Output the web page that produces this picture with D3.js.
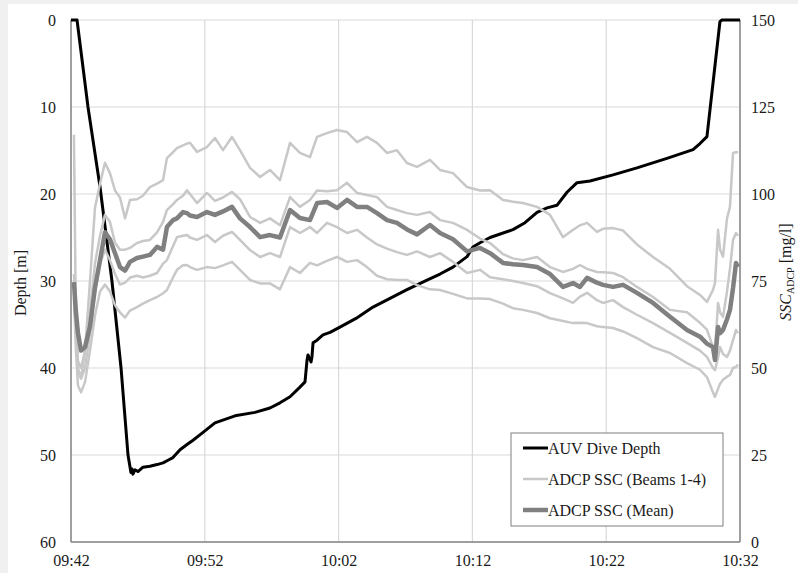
<!DOCTYPE html>
<html>
<head>
<meta charset="utf-8">
<script src="https://cdn.jsdelivr.net/npm/d3@7"></script>
<style>
  html, body { margin: 0; padding: 0; background: #f0f0f0; }
  svg { display: block; }
  svg text { font-family: "Liberation Serif", "Tinos", "Times New Roman", "DejaVu Serif", serif; }
</style>
</head>
<body>
<svg id="chart" width="798" height="573"></svg>
<script>
// ---- Data (time in minutes after 09:42) ----
const timeTickLabels = ["09:42", "09:52", "10:02", "10:12", "10:22", "10:32"];
const timeTicks = [0, 10, 20, 30, 40, 50];
const depthTicks = [0, 10, 20, 30, 40, 50, 60];
const sscTicks = [0, 25, 50, 75, 100, 125, 150];

// AUV dive depth [m]
const depthTime = [0, 0.45, 1.27, 2.17, 3.06, 3.74, 4.26, 4.48, 4.56, 4.63,
  4.78, 5.0, 5.38, 5.9, 6.43, 6.88, 7.25, 7.62, 8.15, 8.67,
  9.12, 9.87, 10.76, 12.26, 13.75, 14.87, 15.62, 16.37, 17.11, 17.49,
  17.64, 17.71, 17.94, 18.01, 18.09, 18.39, 18.83, 19.36, 20.1, 21.3,
  22.57, 23.84, 25.11, 26.61, 27.58, 28.55, 29.6, 30.04, 30.57, 31.32,
  33.03, 33.93, 34.83, 35.58, 36.32, 37.07, 37.82, 38.79, 40.51, 42.3,
  44.54, 46.49, 47.01, 47.53, 48.5, 48.65, 50];
const depthValues = [0, 0, 10, 19.2, 30, 40, 50, 52, 51.6, 52.2,
  51.7, 51.9, 51.4, 51.3, 51.1, 50.9, 50.6, 50.3, 49.4, 48.8,
  48.3, 47.4, 46.3, 45.5, 45.1, 44.6, 44.0, 43.3, 42.2, 41.6,
  39.1, 38.5, 39.3, 38.7, 37.1, 36.8, 36.2, 35.9, 35.3, 34.3,
  33.0, 32.0, 31.0, 29.9, 29.2, 28.4, 27.2, 26.1, 25.6, 25.0,
  24.1, 23.3, 22.1, 21.6, 21.3, 19.8, 18.7, 18.5, 17.8, 17.0,
  15.9, 14.9, 14.2, 13.4, 0.2, 0, 0];

// ADCP SSC [mg/l]
const sscTime = [0.22, 0.37, 0.52, 0.75, 1.05, 1.42, 1.79, 2.17, 2.54, 2.91,
  3.29, 3.66, 4.04, 4.41, 4.93, 5.38, 5.90, 6.43, 6.88, 7.17,
  7.62, 7.92, 8.37, 8.67, 8.89, 9.42, 10.16, 10.76, 11.36, 12.03,
  12.63, 13.38, 14.13, 14.87, 15.62, 16.37, 17.11, 17.86, 18.39, 19.13,
  19.88, 20.63, 21.38, 22.12, 22.87, 23.62, 24.36, 25.11, 25.86, 26.83,
  27.58, 28.55, 29.60, 30.57, 31.32, 32.29, 33.03, 33.78, 34.83, 35.80,
  36.77, 37.52, 38.04, 38.57, 39.31, 39.76, 40.51, 41.26, 42.30, 43.50,
  44.77, 46.04, 47.01, 47.53, 47.98, 48.13, 48.36, 48.51, 48.73, 49.03,
  49.25, 49.48, 49.70, 49.85];
const sscMean = [74.7, 66, 60, 55, 56, 62, 73, 81, 89, 87,
  83, 79, 78, 80.5, 81.6, 82, 82.5, 84.8, 84, 90.5,
  92.5, 93, 94.8, 94.5, 93.8, 93.4, 94.8, 94, 95, 96.3,
  93, 90.5, 87.6, 88.2, 87.5, 95.4, 93.1, 92.5, 97.4, 97.7,
  96, 98.3, 96.3, 96.3, 94.5, 92.5, 91.7, 89.8, 88.4, 91.1,
  88.8, 87, 83.5, 84.5, 83, 80.2, 79.8, 79.6, 79, 77,
  73.3, 74.4, 73.3, 75.9, 74.5, 73.9, 73.3, 73.9, 71.6, 68.7,
  64.7, 60.9, 59, 57, 56, 52.3, 61.8, 60, 60.9, 64,
  66.7, 73, 80.2, 79];
const beam1 = [117, 62, 50, 47, 55, 75, 96, 103, 109, 106,
  101, 99, 93, 98.3, 98.5, 99.5, 102, 103, 104, 110.3,
  112, 113.2, 114, 114.5, 114.7, 112.1, 113.5, 116.1, 112.6, 116.4,
  112.6, 107.5, 104.9, 106.9, 104, 114.7, 111.8, 110.6, 116.4, 117.5,
  118.4, 117.8, 114.9, 116.4, 114.7, 111.8, 112.6, 108.9, 107.8, 109.8,
  106.9, 106, 102, 101, 101.1, 98.3, 97.8, 97.4, 96.3, 94,
  87.6, 89.7, 91, 91.7, 89.1, 90, 90.2, 89.5, 85.5, 81.9,
  78.5, 73.5, 71, 69, 72.4, 74.4, 89.7, 84, 82, 93,
  96.3, 111.8, 112, 112];
const beam2 = [77, 65, 52, 50, 55, 66, 80, 88, 94, 92,
  86, 84, 84, 84.5, 85.9, 86.5, 86.8, 89, 92, 95.4,
  97, 98.3, 99.5, 101.1, 100, 97.4, 100.3, 98, 99, 100.6,
  98.5, 93.4, 91.7, 93, 91, 99.1, 96.3, 98.3, 101, 100.8,
  101.1, 103.2, 100.3, 99.7, 99.1, 96.3, 95.4, 94.5, 94, 94.8,
  92.5, 91.7, 89.7, 87.2, 85.9, 82.7, 81.5, 81, 81.9, 79,
  77.6, 78.5, 79.6, 78.5, 77.6, 77.5, 77.3, 76.1, 73.3, 70.4,
  66.7, 66, 63, 61, 56, 55, 68.7, 66, 64.7, 72,
  78.5, 86.8, 88.8, 88];
const beam3 = [72, 60, 49, 47, 50, 60, 72, 80, 84, 81,
  77, 74, 74.5, 76, 76.5, 76, 76.5, 77.3, 80, 81,
  85, 87.6, 88, 88.2, 87.5, 86.8, 88.2, 86.2, 88, 89.1,
  86.8, 83.9, 81.9, 83, 81.9, 90.5, 88.8, 90.5, 88.8, 91.7,
  90.5, 88.8, 89.7, 87.5, 85.5, 84.3, 83.3, 82.5, 83.5, 81.9,
  83, 80.5, 77.3, 78.2, 76.1, 75.5, 75, 74.4, 73.5, 71.5,
  70, 68.7, 70.5, 71.6, 69.5, 68.7, 69.5, 67.5, 65.3, 62.9,
  60.1, 57.2, 55, 53.2, 50, 49.4, 53, 56, 54, 53.2,
  55, 58, 60.9, 60];
const beam4 = [70, 55, 45, 43, 46, 55, 65, 72, 74, 72,
  68, 66, 64.5, 66.5, 67.5, 68.5, 69.5, 70.4, 71.5, 72.4,
  76, 78.2, 79.5, 79.6, 79, 78.2, 79, 78.7, 79.5, 80.5,
  78.2, 75.3, 74.3, 74.3, 72.6, 79, 77.3, 80.2, 79.5, 80.8,
  81.9, 80.5, 81, 79, 76.5, 75.5, 75.3, 75.3, 73.8, 72.6,
  72.4, 71.3, 70, 70, 69.8, 68.5, 67.2, 66.7, 65.8, 64.3,
  63.5, 62.9, 63, 62.9, 62, 61.8, 61.5, 60.5, 58.6, 56,
  54.3, 51.4, 49.5, 47.4, 43, 41.7, 44, 45.5, 46.6, 47.5,
  48, 50, 50.3, 51];

const legendLabels = ["AUV Dive Depth", "ADCP SSC (Beams 1-4)", "ADCP SSC (Mean)"];

// ---- Drawing ----
const svg = d3.select("#chart");
const L = 71, R = 740, T = 20, B = 542;
const txtColor = "#1a1a1a";

svg.append("rect").attr("x", 8).attr("y", 4).attr("width", 790).attr("height", 569).attr("fill", "#ffffff");

const x = d3.scaleLinear().domain([0, 50]).range([L, R]);
const yD = d3.scaleLinear().domain([0, 60]).range([T, B]);
const yS = d3.scaleLinear().domain([0, 150]).range([B, T]);

// gridlines
const grid = svg.append("g");
grid.selectAll("line.h").data(depthTicks.slice(0, -1)).join("line")
  .attr("x1", L).attr("x2", R).attr("y1", d => yD(d)).attr("y2", d => yD(d))
  .attr("stroke", "#d9d9d9").attr("stroke-width", 1.2);
grid.selectAll("line.v").data(timeTicks.slice(1, -1)).join("line")
  .attr("x1", d => x(d)).attr("x2", d => x(d)).attr("y1", T).attr("y2", B)
  .attr("stroke", "#d9d9d9").attr("stroke-width", 1.2);

// axes
const styleAxis = g => {
  g.attr("font-family", null);
  g.select(".domain").remove();
  g.selectAll(".tick line").remove();
  g.selectAll("text").attr("font-size", 16).attr("fill", txtColor);
};
svg.append("g").attr("transform", `translate(${L},0)`)
  .call(d3.axisLeft(yD).tickValues(depthTicks).tickSize(0).tickPadding(15))
  .call(styleAxis);
svg.append("g").attr("transform", `translate(${R},0)`)
  .call(d3.axisRight(yS).tickValues(sscTicks).tickSize(0).tickPadding(11))
  .call(styleAxis);
svg.append("g").attr("transform", `translate(0,${B})`)
  .call(d3.axisBottom(x).tickValues(timeTicks).tickFormat((d, i) => timeTickLabels[i]).tickSize(0).tickPadding(13))
  .call(styleAxis);

// frame lines
svg.append("line").attr("x1", L).attr("x2", L).attr("y1", T).attr("y2", B).attr("stroke", "#7f7f7f").attr("stroke-width", 1.5);
svg.append("line").attr("x1", R).attr("x2", R).attr("y1", T).attr("y2", B).attr("stroke", "#7f7f7f").attr("stroke-width", 1.5);
svg.append("line").attr("x1", L).attr("x2", R).attr("y1", B).attr("y2", B).attr("stroke", "#7f7f7f").attr("stroke-width", 1.5);

// axis titles
svg.append("text").attr("transform", "translate(26,283) rotate(-90)")
  .attr("text-anchor", "middle").attr("font-size", 16).attr("fill", txtColor)
  .text("Depth [m]");
const rt = svg.append("text").attr("transform", "translate(791,272) rotate(-90)")
  .attr("text-anchor", "middle").attr("font-size", 16).attr("fill", txtColor);
rt.append("tspan").attr("font-style", "italic").text("SSC");
rt.append("tspan").attr("font-size", 10).attr("dy", 3).text("ADCP");
rt.append("tspan").attr("dy", -3).text(" [mg/l]");

// lines
const depthLine = d3.line().x(d => x(d[0])).y(d => yD(d[1]));
const sscLine = d3.line().x(d => x(d[0])).y(d => yS(d[1]));

svg.append("path").datum(d3.zip(depthTime, depthValues)).attr("d", depthLine)
  .attr("fill", "none").attr("stroke", "#000").attr("stroke-width", 3).attr("stroke-linejoin", "round");

[beam1, beam2, beam3, beam4].forEach(b => {
  svg.append("path").datum(d3.zip(sscTime, b)).attr("d", sscLine)
    .attr("fill", "none").attr("stroke", "#c8c8c8").attr("stroke-width", 2.5).attr("stroke-linejoin", "round");
});
svg.append("path").datum(d3.zip(sscTime, sscMean)).attr("d", sscLine)
  .attr("fill", "none").attr("stroke", "#808080").attr("stroke-width", 4.5).attr("stroke-linejoin", "round");

// legend
const lg = svg.append("g");
lg.append("rect").attr("x", 511).attr("y", 433).attr("width", 212).attr("height", 93)
  .attr("fill", "#fff").attr("stroke", "#7f7f7f").attr("stroke-width", 1);
const legStyles = [{ c: "#000", w: 3 }, { c: "#c8c8c8", w: 2.5 }, { c: "#808080", w: 4.5 }];
const rowY = [448, 479, 510];
legendLabels.forEach((lab, i) => {
  lg.append("line").attr("x1", 523).attr("x2", 548).attr("y1", rowY[i]).attr("y2", rowY[i])
    .attr("stroke", legStyles[i].c).attr("stroke-width", legStyles[i].w);
  lg.append("text").attr("x", 548).attr("y", rowY[i]).attr("dy", "0.35em")
    .attr("font-size", 16).attr("fill", txtColor).text(lab);
});
</script>
</body>
</html>
